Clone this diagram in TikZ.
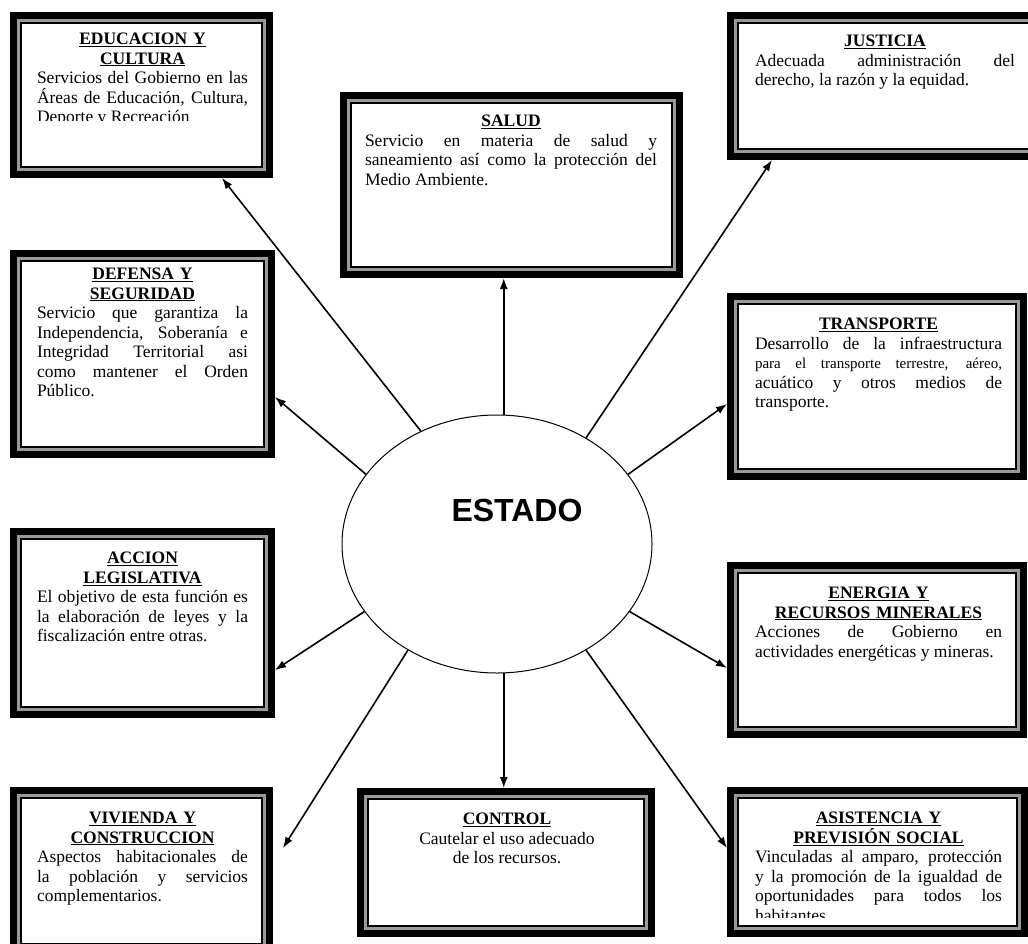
\documentclass[tikz,border=0pt]{standalone}
\usepackage{fontspec}
\setmainfont{Liberation Serif}
\newfontfamily\headfont{Liberation Sans}
\usetikzlibrary{shapes.geometric,arrows.meta,calc}
\tikzset{
  fbox/.style={rectangle, draw=black, line width=7pt, outer sep=3.5pt, inner sep=0pt, fill=white,
    path picture={
      \draw[black!40, line width=3pt] ([shift={(5pt,-5pt)}]path picture bounding box.north west) rectangle ([shift={(-5pt,5pt)}]path picture bounding box.south east);
      \draw[black, line width=1.6pt] ([shift={(7.5pt,-7.5pt)}]path picture bounding box.north west) rectangle ([shift={(-7.5pt,7.5pt)}]path picture bounding box.south east);
    }},
  btext/.style={anchor=north west, inner sep=0pt, outer sep=0pt,
    font=\fontsize{17.5}{19.5}\selectfont},
  ctext/.style={anchor=north, inner sep=0pt, outer sep=0pt, align=center,
    font=\fontsize{17.5}{19.5}\selectfont},
  arr/.style={line width=1.6pt, -{Latex[length=11pt,width=8pt]}},
}
\newcommand{\jst}{\leftskip=0pt\relax\rightskip=0pt\relax\parfillskip=0pt plus 1fil\relax\spaceskip=0pt\relax\xspaceskip=0pt\relax\tolerance=10000\relax\hyphenpenalty=10000\relax\exhyphenpenalty=10000\relax}
\newcommand{\hd}[1]{{\centering\bfseries\underline{#1}\par}}
\newcommand{\bd}[1]{{\jst #1\par}}
\begin{document}
\begin{tikzpicture}[x=1pt,y=-1pt]
\clip (0,0) rectangle (1028,943);
\fill[white] (0,0) rectangle (1028,943);
% boxes
\node[fbox, minimum width=256pt, minimum height=159pt] (edu) at (141.5,95) {};
\node[fbox, minimum width=336pt, minimum height=179pt] (salud) at (511.5,185) {};
\node[fbox, minimum width=306pt, minimum height=141pt] (just) at (883.5,86) {};
\node[fbox, minimum width=258pt, minimum height=201pt] (def) at (142.5,354) {};
\node[fbox, minimum width=293pt, minimum height=180pt] (trans) at (877,386.5) {};
\node[fbox, minimum width=258pt, minimum height=183pt] (acc) at (142.5,623) {};
\node[fbox, minimum width=293pt, minimum height=169pt] (ene) at (877,650) {};
\node[fbox, minimum width=256pt, minimum height=161pt] (viv) at (141.5,871) {};
\node[fbox, minimum width=291pt, minimum height=142pt] (ctrl) at (506,862.5) {};
\node[fbox, minimum width=294pt, minimum height=143pt] (asis) at (877.5,862) {};
% texts
\begin{scope}
\clip (20,20) rectangle (265,120);
\node[btext, text width=211pt] (edut) at (37,33) {\hd{EDUCACION Y}\hd{CULTURA}\bd{Servicios del Gobierno en las\linebreak Áreas de Educación, Cultura,\linebreak Deporte y Recreación}};
\end{scope}
\node[btext, text width=292pt] (saludt) at (365,115) {\hd{SALUD}\bd{Servicio en materia de salud y\linebreak saneamiento así como la protección del\linebreak Medio Ambiente.}};
\node[btext, text width=260pt] (justt) at (755,35) {\hd{JUSTICIA}\bd{Adecuada administración del\linebreak derecho, la razón y la equidad.}};
\node[btext, text width=211pt] (deft) at (37,268) {\hd{DEFENSA Y}\hd{SEGURIDAD}\bd{Servicio que garantiza la\linebreak Independencia, Soberanía e\linebreak Integridad Territorial asi\linebreak como mantener el Orden\linebreak Público.}};
\node[btext, text width=247pt] (transt) at (755,318) {\hd{TRANSPORTE}\bd{Desarrollo de la infraestructura\linebreak {\fontsize{15}{19.5}\selectfont para el transporte terrestre, aéreo,}\linebreak acuático y otros medios de\linebreak transporte.}};
\node[btext, text width=211pt] (acct) at (37,552) {\hd{ACCION}\hd{LEGISLATIVA}\bd{El objetivo de esta función es\linebreak la elaboración de leyes y la\linebreak fiscalización entre otras.}};
\node[btext, text width=247pt] (enet) at (755,587) {\hd{ENERGIA Y}\hd{RECURSOS MINERALES}\bd{Acciones de Gobierno en\linebreak actividades energéticas y mineras.}};
\node[btext, text width=211pt] (vivt) at (37,812) {\hd{VIVIENDA Y}\hd{CONSTRUCCION}\bd{Aspectos habitacionales de\linebreak la población y servicios\linebreak complementarios.}};
\node[ctext] (ctrlt) at (507,813) {\bfseries\underline{CONTROL}\\Cautelar el uso adecuado\\de los recursos.};
\begin{scope}
\clip (735,795) rectangle (1020,917);
\node[btext, text width=247pt] (asist) at (755,812) {\hd{ASISTENCIA Y}\hd{PREVISIÓN SOCIAL}\bd{Vinculadas al amparo, protección\linebreak y la promoción de la igualdad de\linebreak oportunidades para todos los\linebreak habitantes.}};
\end{scope}
% centre
\node[ellipse, draw, line width=1pt, fill=white, minimum width=310pt, minimum height=258pt, inner sep=0pt] (estado) at (497,544) {};
\node[font=\headfont\bfseries\fontsize{32}{36}\selectfont, inner sep=0pt] (estadot) at (517,510) {ESTADO};
% arrows
\draw[arr] (estado.124) -- ([xshift=-51pt]edu.south east);
\draw[arr] (estado.87) -- (estado.87 |- salud.south);
\draw[arr] (estado.50) -- ([xshift=45pt]just.south west);
\draw[arr] (estado.152) -- ([yshift=-43pt]def.east);
\draw[arr] (estado.28) -- ([yshift=-17.5pt]trans.west);
\draw[arr] (estado.207) -- ([yshift=-47pt]acc.east);
\draw[arr] (estado.333) -- ([yshift=-18pt]ene.west);
\draw[arr] (estado.230) -- ([xshift=10pt,yshift=23pt]viv.east);
\draw[arr] (estado.273) -- (estado.273 |- ctrl.north);
\draw[arr] (estado.310) -- ([yshift=14pt]asis.west);
\end{tikzpicture}
\end{document}
